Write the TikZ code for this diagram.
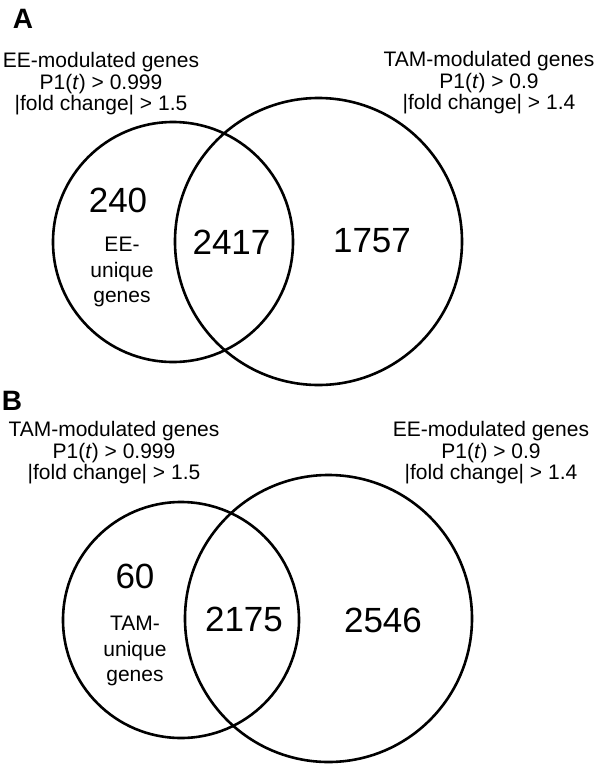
\documentclass[tikz,border=0pt]{standalone}
\usepackage{fontspec}
\setmainfont{Liberation Sans}
\usetikzlibrary{positioning}

\begin{document}
\begin{tikzpicture}[
      x=1pt, y=-1pt,
      setcircle/.style={
        circle,
        draw=black, line width=2.6pt,
        inner sep=0pt
      },
      headtext/.style={font=\fontsize{21}{21.5}\selectfont, align=center, inner sep=0pt},
      countnum/.style={font=\fontsize{35}{36}\selectfont, inner sep=0pt},
      uniqtext/.style={font=\fontsize{21}{25.5}\selectfont, align=center, inner sep=0pt},
      panellabel/.style={font=\fontsize{28}{28}\selectfont\bfseries, inner sep=0pt}
    ]
      \useasboundingbox (0,0) rectangle (600,764);

      % panel A
      \node[panellabel] (labA) at (23,19) {A};
      \node[headtext] (headEEa) at (101,84) {EE-modulated genes\\
        P1(\textit{t}) > 0.999\\
        |fold change| > 1.5};
      \node[headtext] (headTAMa) at (489,83) {TAM-modulated genes\\
        P1(\textit{t}) > 0.9\\
        |fold change| > 1.4};
      \node[setcircle, minimum size=240pt] (eeA) at (173,242) {};
      \node[setcircle, minimum size=287pt] (tamA) at (318.5,241.5) {};
      \node[countnum] (onlyEEa) at (118,200) {240};
      \node[uniqtext] (uniqEEa) at (122,272) {EE-\\unique\\genes};
      \node[countnum] (bothA) at (231.5,242) {2417};
      \node[countnum] (onlyTAMa) at (372,241) {1757};

      % panel B
      \node[panellabel] (labB) at (12,401) {B};
      \node[headtext] (headTAMb) at (114,453) {TAM-modulated genes\\
        P1(\textit{t}) > 0.999\\
        |fold change| > 1.5};
      \node[headtext] (headEEb) at (491,453) {EE-modulated genes\\
        P1(\textit{t}) > 0.9\\
        |fold change| > 1.4};
      \node[setcircle, minimum size=236pt] (tamB) at (181,620) {};
      \node[setcircle, minimum size=287pt] (eeB) at (328.5,618.5) {};
      \node[countnum] (onlyTAMb) at (135,576) {60};
      \node[uniqtext] (uniqTAMb) at (135,651) {TAM-\\unique\\genes};
      \node[countnum] (bothB) at (244,619) {2175};
      \node[countnum] (onlyEEb) at (383,620) {2546};
    \end{tikzpicture}
\end{document}
